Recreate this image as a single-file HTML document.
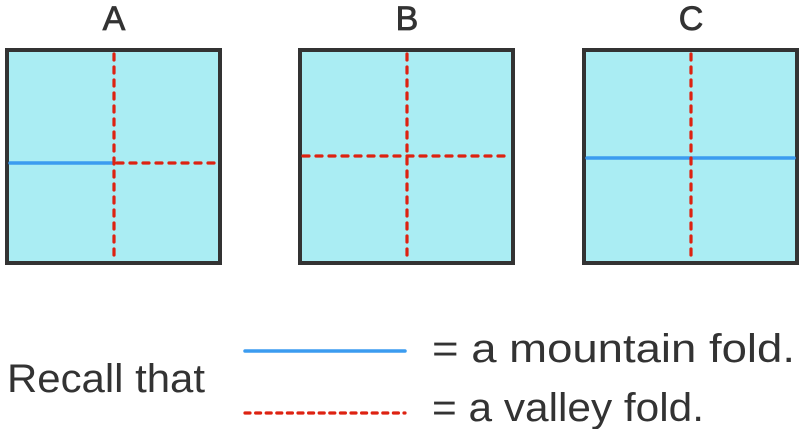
<!DOCTYPE html>
<html><head><meta charset="utf-8"><style>
html,body{margin:0;padding:0;background:#fff;}
svg{display:block;}
text{font-family:"Liberation Sans",sans-serif;fill:#333;}
</style></head><body>
<svg width="800" height="429" viewBox="0 0 800 429">
<g font-size="34" text-anchor="middle" stroke="#333" stroke-width="0.8">
<text x="114" y="30">A</text>
<text x="407" y="30">B</text>
<text x="691" y="30">C</text>
</g>
<g fill="#aaedf3" stroke="#333" stroke-width="4">
<rect x="7" y="50" width="213" height="213"/>
<rect x="300" y="50" width="213" height="213"/>
<rect x="584" y="50" width="213" height="213"/>
</g>
<g stroke-linecap="round" stroke-width="3.5">
<line x1="10" y1="163" x2="114" y2="163" stroke="#3b9cf0"/>
<line x1="587" y1="158" x2="794" y2="158" stroke="#3b9cf0"/>
<g stroke="#dd2211" stroke-dasharray="6 7" stroke-width="3.2">
<line x1="114" y1="54" x2="114" y2="259"/>
<line x1="117" y1="163" x2="218" y2="163"/>
<line x1="407" y1="54" x2="407" y2="259"/>
<line x1="303" y1="156" x2="511" y2="156"/>
<line x1="691" y1="54" x2="691" y2="259"/>
</g>
<line x1="245" y1="351" x2="405" y2="351" stroke="#3b9cf0"/>
<line x1="245" y1="413" x2="405" y2="413" stroke="#dd2211" stroke-dasharray="5 5.6" stroke-width="3.2"/>
</g>
<g font-size="40">
<text x="7" y="392" textLength="198" lengthAdjust="spacingAndGlyphs">Recall that</text>
<text x="432" y="362" textLength="363" lengthAdjust="spacingAndGlyphs">=  a mountain fold.</text>
<text x="432" y="421" textLength="272" lengthAdjust="spacingAndGlyphs">=  a valley fold.</text>
</g>
</svg>
</body></html>
